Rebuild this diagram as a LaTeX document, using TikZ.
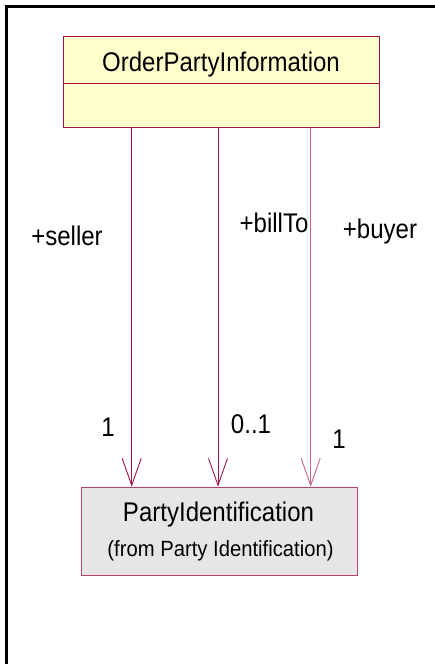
\documentclass[tikz,border=0pt]{standalone}
\usepackage{fontspec}
\setmainfont{Liberation Sans}
\usetikzlibrary{arrows.meta}
\definecolor{umlred}{RGB}{160,20,70}
\definecolor{umlpink}{RGB}{200,100,135}
\definecolor{umlyellow}{RGB}{255,255,204}
\definecolor{umlgray}{RGB}{230,230,230}
\newcommand{\bigtxt}[1]{\scalebox{0.89}[1]{\fontsize{27}{30}\selectfont #1}}
\newcommand{\smalltxt}[1]{\scalebox{0.92}[1]{\fontsize{22}{25}\selectfont #1}}
\tikzset{
  compartment/.style={draw=umlred, line width=1pt, fill=umlyellow, rectangle, inner sep=0pt, anchor=north west},
  classbox/.style={draw=umlred!80, line width=1pt, fill=umlgray, rectangle, inner sep=0pt, anchor=north west},
  assoc/.style={draw=umlred, line width=0.9pt, -{Straight Barb[length=27pt,width=19pt,line width=0.9pt]}},
  lbl/.style={inner sep=0pt, anchor=base}
}
\begin{document}
\begin{tikzpicture}[x=1pt,y=-1pt]
\useasboundingbox (0,0) rectangle (435,664);
\fill[white] (0,0) rectangle (435,664);
% frame
\draw[line width=2.8pt, black] (6.2,664) -- (6.2,6.2) -- (435,6.2);
% top class
\node[compartment, minimum width=316pt, minimum height=47pt] (opi) at (63,36) {};
\node[compartment, minimum width=316pt, minimum height=44pt] (opiattr) at (63,83) {};
\node[lbl] (opiname) at (221,71) {\bigtxt{OrderPartyInformation}};
% bottom class
\node[classbox, minimum width=276pt, minimum height=88.5pt] (pi) at (80.7,486.7) {};
\node[lbl] (piname) at (218.5,521.5) {\bigtxt{PartyIdentification}};
\node[lbl] (pifrom) at (220.5,556) {\smalltxt{(from Party Identification)}};
% associations
\draw[assoc] ([xshift=68.7pt]opiattr.south west) -- ([xshift=51pt]pi.north west);
\draw[assoc] ([xshift=155pt]opiattr.south west) -- ([xshift=137.3pt]pi.north west);
\draw[assoc, draw=umlpink] ([xshift=247.7pt]opiattr.south west) -- ([xshift=230pt]pi.north west);
% role labels
\node[lbl] (seller) at (67,245) {\bigtxt{+seller}};
\node[lbl] (billto) at (274,232.3) {\bigtxt{+billTo}};
\node[lbl] (buyer) at (380,238.3) {\bigtxt{+buyer}};
% multiplicities
\node[lbl] (m1) at (108,436) {\bigtxt{1}};
\node[lbl] (m2) at (251,433) {\bigtxt{0..1}};
\node[lbl] (m3) at (339,448) {\bigtxt{1}};
\end{tikzpicture}
\end{document}
